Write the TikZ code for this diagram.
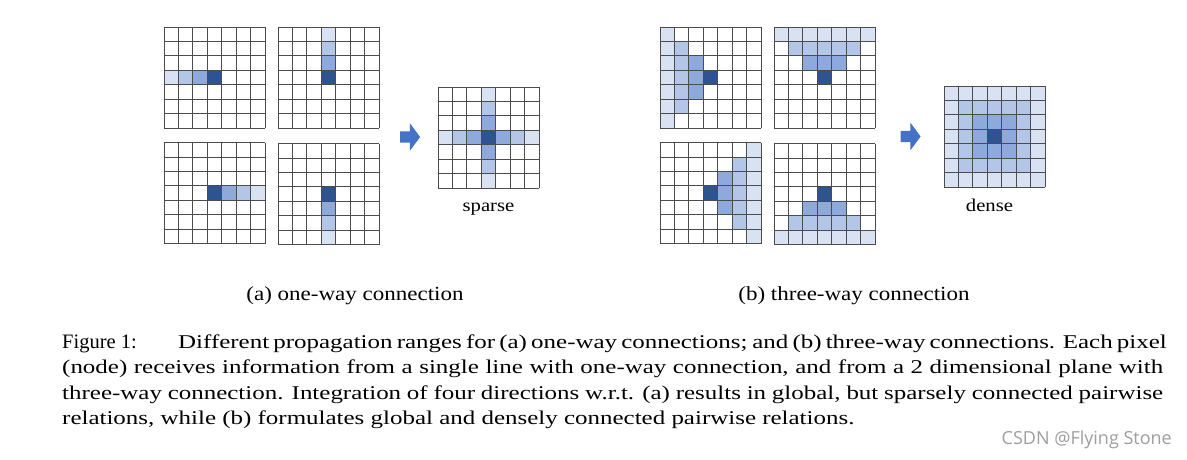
\documentclass[tikz,border=0pt]{standalone}
\usepackage{fontspec}
\setmainfont{Liberation Serif}
\newfontfamily\capfont[FakeStretch=1.28]{Liberation Serif}
\newfontfamily\figfont[FakeStretch=1.15]{Liberation Serif}
\newfontfamily\wmfont{Open Sans}
\usetikzlibrary{positioning,calc,shapes.arrows}
\definecolor{cD}{HTML}{2E5391}
\definecolor{cM}{HTML}{8EA9DB}
\definecolor{cL}{HTML}{B4C6E7}
\definecolor{cV}{HTML}{D9E2F3}
\definecolor{arrblue}{HTML}{4472C4}
\def\cs{14.43}
\tikzset{
  gridbox/.style={rectangle, anchor=north west, minimum size=101pt, inner sep=0pt,
                  outer sep=0pt},
  gline/.style={draw=black!70, line width=0.75pt},
  bigarr/.style={single arrow, fill=arrblue, draw=none, minimum height=20pt,
                 inner xsep=0pt, inner ysep=5.5pt, single arrow head extend=8pt,
                 single arrow tip angle=107},
  lbl/.style={font=\figfont\fontsize{18}{21}\selectfont, inner sep=0pt},
  sublbl/.style={font=\figfont\fontsize{20}{24}\selectfont, inner sep=0pt, anchor=base},
  capt/.style={font=\capfont\fontsize{19.5}{25.5}\selectfont, inner sep=0pt, anchor=base west},
  wmark/.style={font=\wmfont\fontsize{18}{21}\selectfont, text=black!38, inner sep=0pt,
                anchor=base east},
}
% one 7x7 pixel grid: name, top-left x, y, filled blocks x/y/w/h/colour
\newcommand{\pxgrid}[4]{%
  \node[gridbox] (#1) at (#2,#3) {};
  \foreach \gx/\gy/\gw/\gh/\gc in {#4}
    \fill[\gc] ($(#1.north west)+(\gx*\cs,\gy*\cs)$) rectangle ++(\gw*\cs,\gh*\cs);
  \foreach \i in {0,...,7} {
    \draw[gline] ($(#1.north west)+(\i*\cs,0)$) -- ++(0,7*\cs);
    \draw[gline] ($(#1.north west)+(0,\i*\cs)$) -- ++(7*\cs,0);
  }%
}
\begin{document}
\begin{tikzpicture}[x=1pt, y=-1pt]
\useasboundingbox[fill=white] (0,0) rectangle (1187,460);
% (a) one-way
\pxgrid{ga1}{164}{27}{0/3/1/1/cV, 1/3/1/1/cL, 2/3/1/1/cM, 3/3/1/1/cD}
\pxgrid{ga2}{278}{27}{3/0/1/1/cV, 3/1/1/1/cL, 3/2/1/1/cM, 3/3/1/1/cD}
\pxgrid{ga3}{164}{142.5}{3/3/1/1/cD, 4/3/1/1/cM, 5/3/1/1/cL, 6/3/1/1/cV}
\pxgrid{ga4}{278}{143.5}{3/3/1/1/cD, 3/4/1/1/cM, 3/5/1/1/cL, 3/6/1/1/cV}
\node[bigarr] (arra) at (408,137) {};
\pxgrid{sparse}{438}{87}{0/3/7/1/cV, 3/0/1/7/cV, 1/3/5/1/cL, 3/1/1/5/cL,
  2/3/3/1/cM, 3/2/1/3/cM, 3/3/1/1/cD}
\node[lbl, below=23pt of sparse, anchor=base] (sparselbl) {sparse};
% (b) three-way
\pxgrid{gb1}{660}{27}{0/0/1/7/cV, 1/1/1/5/cL, 2/2/1/3/cM, 3/3/1/1/cD}
\pxgrid{gb2}{774}{27}{0/0/7/1/cV, 1/1/5/1/cL, 2/2/3/1/cM, 3/3/1/1/cD}
\pxgrid{gb3}{660}{142.5}{6/0/1/7/cV, 5/1/1/5/cL, 4/2/1/3/cM, 3/3/1/1/cD}
\pxgrid{gb4}{774}{143.5}{0/6/7/1/cV, 1/5/5/1/cL, 2/4/3/1/cM, 3/3/1/1/cD}
\node[bigarr] (arrb) at (908.5,136.5) {};
\pxgrid{dense}{944}{86}{0/0/7/7/cV, 1/1/5/5/cL, 2/2/3/3/cM, 3/3/1/1/cD}
\node[lbl, below=24pt of dense, anchor=base, xshift=-5pt] (denselbl) {dense};
% sub captions
\node[sublbl] (capa) at (355,300) {(a) one-way connection};
\node[sublbl] (capb) at (854,300) {(b) three-way connection};
% figure caption
\node[anchor=base west, inner sep=0pt, font=\fontsize{20.5}{24}\selectfont] (fignum)
  at (62,348) {Figure 1:};
\node[capt] (cap1) at (178,348) {\makebox[985pt][s]{Different propagation ranges for (a)
  one-way connections; and (b) three-way connections. Each pixel}};
\node[capt] (cap2) at (62,373.5) {\makebox[1101pt][s]{(node) receives information from a
  single line with one-way connection, and from a 2 dimensional plane with}};
\node[capt] (cap3) at (62,399) {\makebox[1101pt][s]{three-way connection. Integration of
  four directions w.r.t. (a) results in global, but sparsely connected pairwise}};
\node[capt] (cap4) at (62,424.5) {relations, while (b) formulates global and densely
  connected pairwise relations.};
\node[wmark] (wm) at (1172,444) {CSDN @Flying Stone};
\end{tikzpicture}
\end{document}
